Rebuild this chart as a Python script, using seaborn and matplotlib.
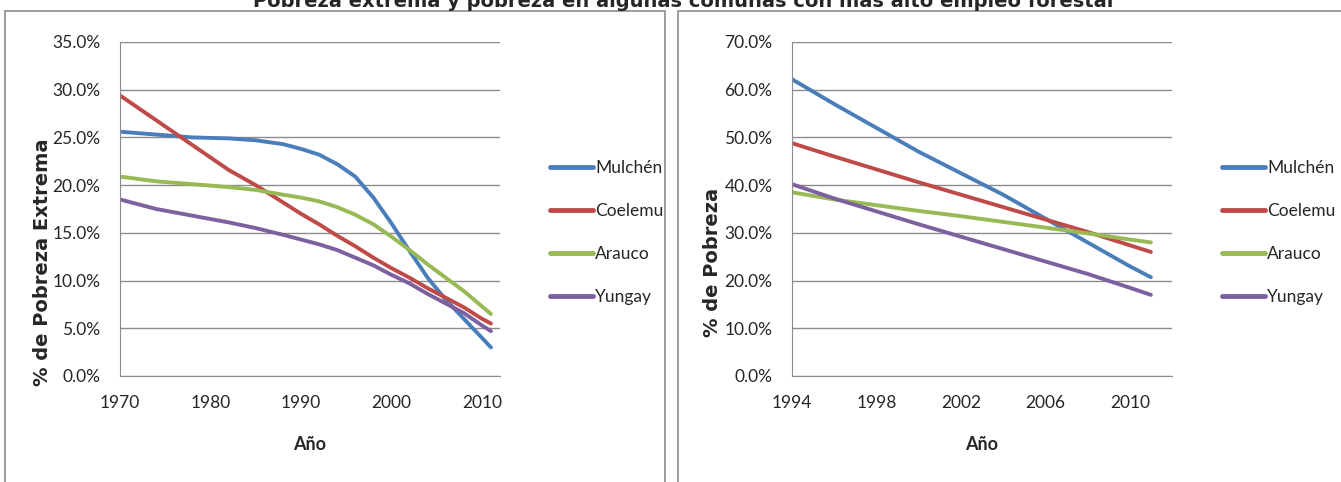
import numpy as np
import pandas as pd
import matplotlib.pyplot as plt
import seaborn as sns
from matplotlib.patches import Rectangle
from matplotlib.ticker import PercentFormatter

sns.set_style("white")
plt.rcParams['font.family'] = ['Lato', 'DejaVu Sans']

comunas = ['Mulchén', 'Coelemu', 'Arauco', 'Yungay']
colores = ['#4a7ebb', '#be4b48', '#98b954', '#7d60a0']

# pobreza extrema (%), 1970-2011
anios_ext = [1970, 1974, 1978, 1982, 1985, 1988, 1990, 1992, 1994, 1996, 1998, 2000, 2002, 2004, 2006, 2008, 2010, 2011]
mulchen_ext = [25.6, 25.3, 25.0, 24.9, 24.7, 24.3, 23.8, 23.2, 22.2, 20.9, 18.7, 16.0, 13.1, 10.3, 8.0, 6.0, 4.0, 3.0]
coelemu_ext = [29.4, 26.8, 24.2, 21.6, 20.0, 18.2, 17.0, 15.9, 14.7, 13.6, 12.4, 11.3, 10.3, 9.2, 8.2, 7.2, 6.0, 5.5]
arauco_ext = [20.9, 20.4, 20.1, 19.8, 19.5, 19.0, 18.7, 18.3, 17.7, 16.9, 15.9, 14.6, 13.2, 11.7, 10.3, 8.9, 7.3, 6.5]
yungay_ext = [18.5, 17.5, 16.8, 16.1, 15.5, 14.8, 14.3, 13.8, 13.2, 12.4, 11.6, 10.6, 9.7, 8.6, 7.6, 6.6, 5.3, 4.7]

# pobreza (%), 1994-2011
anios_pob = [1994, 1996, 1998, 2000, 2002, 2004, 2006, 2008, 2010, 2011]
mulchen_pob = [62.2, 57.0, 52.0, 47.0, 42.5, 38.0, 33.0, 28.0, 23.0, 20.7]
coelemu_pob = [48.8, 46.0, 43.3, 40.6, 38.0, 35.4, 32.8, 30.2, 27.4, 26.0]
arauco_pob = [38.5, 37.0, 35.8, 34.6, 33.5, 32.3, 31.1, 29.9, 28.6, 28.0]
yungay_pob = [40.2, 37.2, 34.5, 31.8, 29.2, 26.6, 24.0, 21.4, 18.5, 17.0]


def a_tabla(anios, series):
    filas = []
    for nombre, vals in zip(comunas, series):
        for a, v in zip(anios, vals):
            filas.append({'Año': a, 'valor': v, 'Comuna': nombre})
    return pd.DataFrame(filas)


df_ext = a_tabla(anios_ext, [mulchen_ext, coelemu_ext, arauco_ext, yungay_ext])
df_pob = a_tabla(anios_pob, [mulchen_pob, coelemu_pob, arauco_pob, yungay_pob])

fig = plt.figure(figsize=(13.41, 4.82), dpi=100)

# panel frames
fig.patches.append(Rectangle((5 / 1341, -0.01), 660 / 1341, 1 - 11 / 482 + 0.01,
                             transform=fig.transFigure, fill=False, edgecolor='#8c8c8c', lw=1.2))
fig.patches.append(Rectangle((678 / 1341, -0.01), 670 / 1341, 1 - 11 / 482 + 0.01,
                             transform=fig.transFigure, fill=False, edgecolor='#8c8c8c', lw=1.2))

fig.text(683 / 1341, 1 - 7 / 482, 'Pobreza extrema y pobreza en algunas comunas con más alto empleo forestal',
         ha='center', va='baseline', fontsize=14, fontweight='bold', family='DejaVu Sans')

ax1 = fig.add_axes([120 / 1341, 1 - 376 / 482, 380 / 1341, 334 / 482])
ax2 = fig.add_axes([792 / 1341, 1 - 376 / 482, 380 / 1341, 334 / 482])


def estilo(ax, df, xlim, xticks, ymax, ystep, ylabel, ylab_x):
    sns.lineplot(data=df, x='Año', y='valor', hue='Comuna', hue_order=comunas,
                 palette=colores, linewidth=2.8, ax=ax)
    ax.set_xlim(*xlim)
    ax.set_ylim(0, ymax)
    ax.set_xticks(xticks)
    ax.set_yticks(np.arange(0, ymax + 0.01, ystep))
    ax.yaxis.set_major_formatter(PercentFormatter(decimals=1))
    ax.grid(axis='y', color='#8c8c8c', lw=1)
    ax.grid(axis='x', visible=False)
    for s in ['top', 'right']:
        ax.spines[s].set_visible(False)
    for s in ['left', 'bottom']:
        ax.spines[s].set_color('#8c8c8c')
    ax.tick_params(axis='both', length=0, labelsize=12.5, pad=14)
    ax.tick_params(axis='x', pad=14)
    ax.set_xlabel('Año', fontsize=13, fontweight='bold', labelpad=18)
    ax.set_ylabel('')
    fig.text(ylab_x / 1341, 1 - 262 / 482, ylabel, rotation=90, ha='center', va='center',
             fontsize=14, fontweight='bold', family='DejaVu Sans')
    leg = ax.legend(loc='center left', bbox_to_anchor=(1.09, 0.43), frameon=False,
                    fontsize=12.5, handlelength=2.5, handletextpad=0.1, labelspacing=1.55)
    for h in leg.get_lines():
        h.set_linewidth(3.5)


estilo(ax1, df_ext, (1970, 2012), [1970, 1980, 1990, 2000, 2010], 35, 5, '% de Pobreza Extrema', 43)
estilo(ax2, df_pob, (1994, 2012), [1994, 1998, 2002, 2006, 2010], 70, 10, '% de Pobreza', 713)

fig.savefig('out.png', dpi=100)
